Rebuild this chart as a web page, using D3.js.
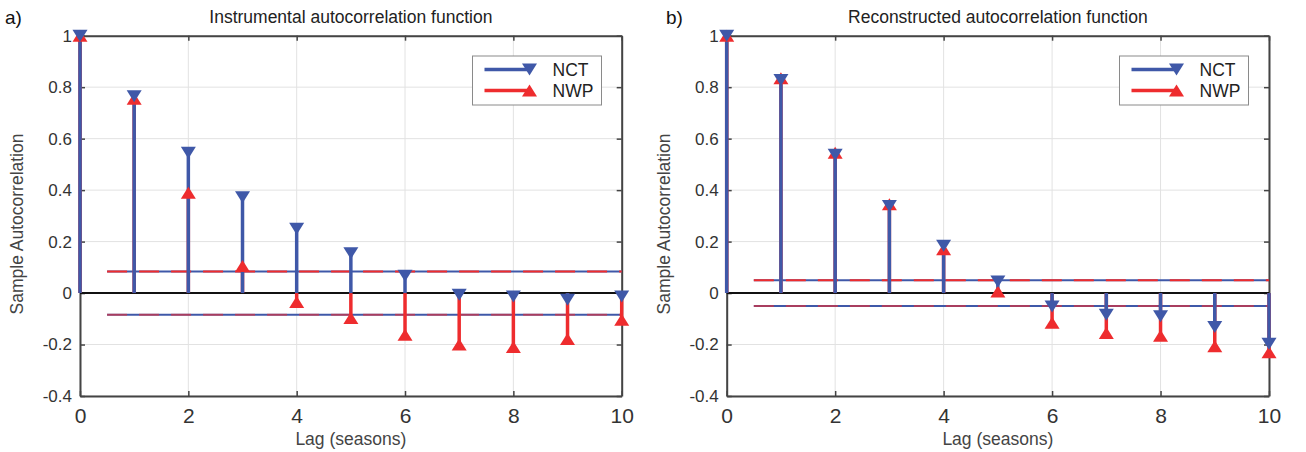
<!DOCTYPE html>
<html>
<head>
<meta charset="utf-8">
<script src="https://cdn.jsdelivr.net/npm/d3@7"></script>
<style>
  html, body { margin: 0; padding: 0; background: #fff; }
  svg text { font-family: Helvetica, Arial, "Liberation Sans", sans-serif; }
</style>
</head>
<body>
<svg id="chart" width="1306" height="452"></svg>
<script>
// data
const lags = [0, 1, 2, 3, 4, 5, 6, 7, 8, 9, 10];
const nctInstr = [1, 0.765, 0.545, 0.372, 0.25, 0.155, 0.067, -0.007, -0.013, -0.026, -0.013];
const nwpInstr = [1, 0.755, 0.39, 0.105, -0.035, -0.097, -0.162, -0.2, -0.21, -0.179, -0.104];
const nctRecon = [1, 0.828, 0.537, 0.338, 0.184, 0.045, -0.052, -0.084, -0.09, -0.132, -0.197];
const nwpRecon = [1, 0.835, 0.545, 0.345, 0.17, 0.006, -0.115, -0.155, -0.166, -0.207, -0.23];
const boundInstr = 0.084;
const boundRecon = 0.05;
const xTicks = [0, 2, 4, 6, 8, 10];
const yTicks = [-0.4, -0.2, 0, 0.2, 0.4, 0.6, 0.8, 1];
const seriesNames = ['NCT', 'NWP'];

const BLUE = '#3f58a8';
const RED = '#ee2c2e';
const AXIS = '#444';

const svg = d3.select('#chart');

function triPath(w, h, down) {
  const s = down ? -1 : 1;
  return `M0,${-s * h / 2}L${w / 2},${s * h / 2}L${-w / 2},${s * h / 2}Z`;
}

function styleAxis(sel, fontSize) {
  sel.attr('font-family', null);
  sel.select('.domain').attr('stroke', AXIS).attr('stroke-width', 2);
  sel.selectAll('.tick line').attr('stroke', AXIS).attr('stroke-width', 1.5);
  sel.selectAll('.tick text').attr('fill', '#333').attr('font-size', fontSize);
}

function drawPanel(opts) {
  const x = d3.scaleLinear().domain([0, 10]).range([opts.left, opts.right]);
  const y = d3.scaleLinear().domain([-0.4, 1]).range([396, 35.7]);
  const g = svg.append('g');

  // grid
  g.selectAll('.vgrid').data(xTicks).enter().append('line')
    .attr('x1', d => x(d)).attr('x2', d => x(d))
    .attr('y1', y(-0.4)).attr('y2', y(1))
    .attr('stroke', '#e2e2e2').attr('stroke-width', 1);
  g.selectAll('.hgrid').data(yTicks).enter().append('line')
    .attr('x1', x(0)).attr('x2', x(10))
    .attr('y1', d => y(d)).attr('y2', d => y(d))
    .attr('stroke', '#e2e2e2').attr('stroke-width', 1);

  // axes box with inward ticks
  g.append('g').attr('transform', `translate(0,${y(-0.4)})`)
    .call(d3.axisBottom(x).tickValues(xTicks).tickSizeInner(-5).tickSizeOuter(0).tickPadding(12))
    .call(styleAxis, 21);
  g.append('g').attr('transform', `translate(0,${y(1)})`)
    .call(d3.axisTop(x).tickValues(xTicks).tickSizeInner(-5).tickSizeOuter(0).tickFormat(''))
    .call(styleAxis, 10);
  g.append('g').attr('transform', `translate(${x(0)},0)`)
    .call(d3.axisLeft(y).tickValues(yTicks).tickSizeInner(-5).tickSizeOuter(0).tickPadding(8)
      .tickFormat(d => String(+d.toFixed(1))))
    .call(styleAxis, 17);
  g.append('g').attr('transform', `translate(${x(10)},0)`)
    .call(d3.axisRight(y).tickValues(yTicks).tickSizeInner(-5).tickSizeOuter(0).tickFormat(''))
    .call(styleAxis, 10);

  // zero line
  g.append('line')
    .attr('x1', x(0)).attr('x2', x(10)).attr('y1', y(0)).attr('y2', y(0))
    .attr('stroke', '#111').attr('stroke-width', 2);

  // confidence bounds
  [opts.bound, -opts.bound].forEach(b => {
    g.append('line')
      .attr('x1', x(0.5)).attr('x2', x(10)).attr('y1', y(b)).attr('y2', y(b))
      .attr('stroke', BLUE).attr('stroke-width', 2);
    g.append('line')
      .attr('x1', x(0.5)).attr('x2', x(10)).attr('y1', y(b)).attr('y2', y(b))
      .attr('stroke', RED).attr('stroke-width', 2).attr('stroke-dasharray', '20,12')
      .attr('stroke-opacity', b < 0 ? 0.6 : 1);
  });

  // stems: NWP first, NCT on top
  const series = [
    { vals: opts.nwp, color: RED, down: false },
    { vals: opts.nct, color: BLUE, down: true }
  ];
  series.forEach(s => {
    g.append('g').selectAll('line').data(lags).enter().append('line')
      .attr('x1', d => x(d)).attr('x2', d => x(d))
      .attr('y1', y(0)).attr('y2', (d, i) => y(s.vals[i]))
      .attr('stroke', s.color).attr('stroke-width', 3.5);
  });
  series.forEach(s => {
    g.append('g').selectAll('path').data(lags).enter().append('path')
      .attr('d', triPath(15, 12, s.down))
      .attr('transform', (d, i) => `translate(${x(d)},${y(s.vals[i])})`)
      .attr('fill', s.color);
  });

  // title, panel letter, axis labels
  svg.append('text').attr('x', (x(0) + x(10)) / 2).attr('y', 23)
    .attr('text-anchor', 'middle').attr('font-size', 17.5).attr('fill', '#222')
    .text(opts.title);
  svg.append('text').attr('x', opts.letterX).attr('y', 24)
    .attr('font-size', 19).attr('fill', '#111').text(opts.letter);
  svg.append('text').attr('x', (x(0) + x(10)) / 2).attr('y', 445)
    .attr('text-anchor', 'middle').attr('font-size', 17.5).attr('fill', '#444')
    .text('Lag (seasons)');
  svg.append('text')
    .attr('transform', `translate(${x(0) - 57},224) rotate(-90)`)
    .attr('text-anchor', 'middle').attr('font-size', 17.5).attr('fill', '#444')
    .text('Sample Autocorrelation');

  // legend
  const lx = opts.legendX, ly = 56;
  const leg = svg.append('g');
  leg.append('rect').attr('x', lx).attr('y', ly).attr('width', 129).attr('height', 49)
    .attr('fill', '#fff').attr('stroke', '#8a8a8a').attr('stroke-width', 1);
  [{ c: BLUE, down: true }, { c: RED, down: false }].forEach((s, i) => {
    const yy = ly + 13.5 + i * 21;
    leg.append('line').attr('x1', lx + 12).attr('x2', lx + 58).attr('y1', yy).attr('y2', yy)
      .attr('stroke', s.c).attr('stroke-width', 3.5);
    leg.append('path').attr('d', triPath(15, 12, s.down))
      .attr('transform', `translate(${lx + 57},${yy})`).attr('fill', s.c);
    leg.append('text').attr('x', lx + 80).attr('y', yy + 6)
      .attr('font-size', 17.5).attr('fill', '#222').text(seriesNames[i]);
  });
}

drawPanel({
  left: 80, right: 621.7, nct: nctInstr, nwp: nwpInstr, bound: boundInstr,
  title: 'Instrumental autocorrelation function', letter: 'a)', letterX: 5, legendX: 472.5
});
drawPanel({
  left: 726.7, right: 1269, nct: nctRecon, nwp: nwpRecon, bound: boundRecon,
  title: 'Reconstructed autocorrelation function', letter: 'b)', letterX: 666, legendX: 1119.5
});
</script>
</body>
</html>
